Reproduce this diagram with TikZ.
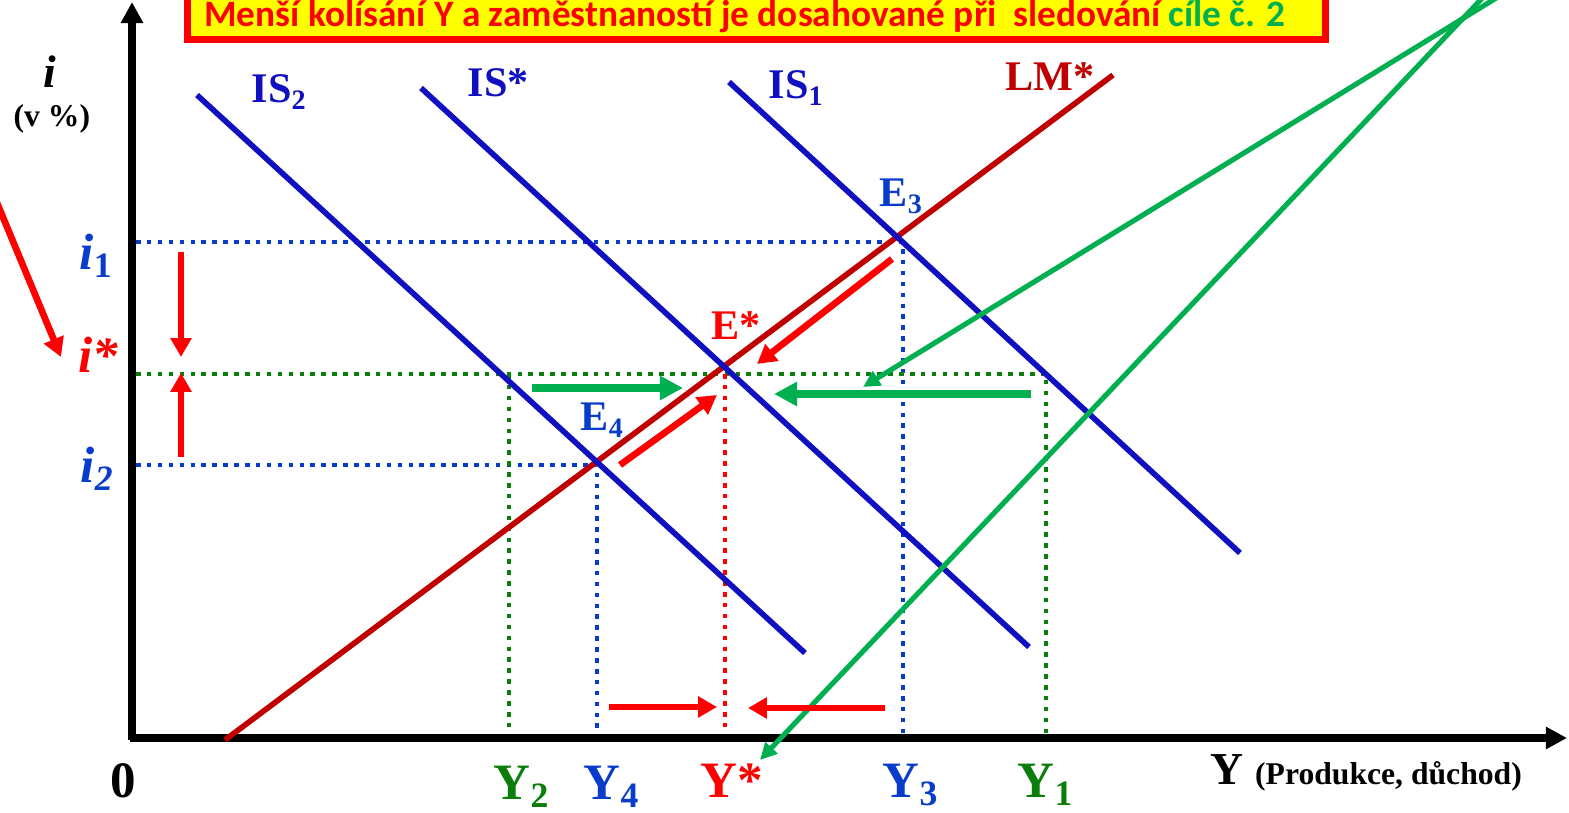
\documentclass[tikz,border=0pt]{standalone}
\usepackage{fontspec}
\setmainfont{Liberation Serif}
\newfontfamily\calibrifont{Carlito}
\usepackage{xcolor}
\usetikzlibrary{arrows.meta}
\definecolor{isblue}{HTML}{1010C0}
\definecolor{ptblue}{HTML}{0A3CCC}
\definecolor{lmred}{HTML}{C00000}
\definecolor{arrred}{HTML}{FF0000}
\definecolor{lgreen}{HTML}{00B050}
\definecolor{dgreen}{HTML}{0B7D0B}
\definecolor{boxyellow}{HTML}{FFFF00}

\begin{document}
\begin{tikzpicture}[x=0.01cm,y=-0.01cm]
  \tikzstyle{isline}=[isblue,line width=1.6pt]
  \tikzstyle{lmline}=[lmred,line width=1.6pt]
  \tikzstyle{trace}=[line width=1.3pt,dash pattern=on 1.3pt off 1.8pt]
  \tikzstyle{axisline}=[black,line width=2pt,-{Triangle[length=6pt,width=6pt]}]
  \tikzstyle{redarr}=[arrred,line width=1.9pt,-{Triangle[length=5.4pt,width=5.8pt]}]
  \tikzstyle{bigarr}=[lgreen,line width=2.2pt,-{Triangle[length=6.6pt,width=6.6pt]}]
  \tikzstyle{thinarr}=[lgreen,line width=1.45pt,-{Triangle[length=4.8pt,width=4.6pt]}]
  \tikzstyle{lbl}=[inner sep=0pt,anchor=base west,font=\fontsize{12}{14}\selectfont\bfseries]
  \tikzstyle{big}=[inner sep=0pt,anchor=base west,font=\fontsize{14.5}{16}\selectfont\bfseries]
  \clip (0,0) rectangle (1569,813);

  % title
  \node[draw=arrred,fill=boxyellow,line width=2pt,minimum width=11.38cm,minimum height=0.8cm,anchor=south west,inner sep=0pt] (box) at (183.5,43.5) {};
  \node[inner sep=0pt,font=\calibrifont\fontsize{10.6}{12}\selectfont\bfseries,text=arrred] (title) at (745,17)
    {Menší kolísání Y a zaměstnaností je dosahované při\ \ sledování \textcolor{lgreen}{cíle č. 2}};

  % points
  \coordinate (O) at (132,738);
  \coordinate (ytop) at (132,2);
  \coordinate (xend) at (1567,738);
  \coordinate (e3) at (903,242);
  \coordinate (e4) at (597,465);
  \coordinate (es) at (725,374);
  \coordinate (g1) at (1046,374);
  \coordinate (g2) at (509,374);

  % guides
  \draw[trace,ptblue] (136,242) -- (e3) -- (903,738);
  \draw[trace,ptblue] (136,465) -- (e4) -- (597,738);
  \draw[trace,dgreen] (136,374) -- (g1) -- (1046,738);
  \draw[trace,dgreen] (g2) -- (509,730);
  \draw[trace,arrred] (es) -- (725,738);

  % axes
  \draw[axisline] (132,740) -- (ytop);
  \draw[axisline] (130,738) -- (xend);

  % curves
  \draw[lmline] (225,740) coordinate (lmA) -- (1113,75) coordinate (lmB);
  \draw[isline] (197,95) coordinate (isTwoA) -- (805,653) coordinate (isTwoB);
  \draw[isline] (421,88) coordinate (isStA) -- (1029,647) coordinate (isStB);
  \draw[isline] (729,82) coordinate (isOneA) -- (1240,553) coordinate (isOneB);
  \draw[thinarr] (1506,-8) coordinate (grA) -- (863,387) coordinate (grB);
  \draw[thinarr] (1488,-8) coordinate (grC) -- (760,760) coordinate (grD);

  % moves
  \draw[bigarr] (532,388) coordinate (bg1) -- (683,388) coordinate (bg2);
  \draw[bigarr] (1031,394) coordinate (bg3) -- (774,394) coordinate (bg4);
  \draw[redarr] (892,259) coordinate (rd1) -- (757,364) coordinate (rd2);
  \draw[redarr] (620,465) coordinate (rd3) -- (717,395) coordinate (rd4);
  \draw[redarr] (181,252) coordinate (rv1) -- (181,357) coordinate (rv2);
  \draw[redarr] (181,457) coordinate (rv3) -- (181,373) coordinate (rv4);
  \draw[redarr] (609,707) coordinate (rb1) -- (717,707) coordinate (rb2);
  \draw[redarr] (885,708) coordinate (rb3) -- (748,708) coordinate (rb4);
  \draw[redarr] (-10,186) coordinate (rl1) -- (61,357) coordinate (rl2);

  % labels
  \node[lbl,font=\fontsize{13}{14}\selectfont\bfseries\itshape] (iax) at (43,88) {i};
  \node[lbl,font=\fontsize{9}{11}\selectfont\bfseries] (unit) at (13,127) {(v \%)};
  \node[big,ptblue,font=\fontsize{14.5}{16}\selectfont\bfseries\itshape] (iOne) at (79,270) {i\textsubscript{\upshape 1}};
  \node[big,arrred,font=\fontsize{14.5}{16}\selectfont\bfseries\itshape] (iSt) at (78,373) {i*};
  \node[big,ptblue,font=\fontsize{14.5}{16}\selectfont\bfseries\itshape] (iTwo) at (80,483) {i\textsubscript{2}};
  \node[lbl,isblue] (lIsTwo) at (251,103) {IS\textsubscript{2}};
  \node[lbl,isblue] (lIsSt) at (467,97) {IS*};
  \node[lbl,isblue] (lIsOne) at (768,99) {IS\textsubscript{1}};
  \node[lbl,lmred] (lLm) at (1005,91) {LM*};
  \node[lbl,ptblue] (lEThree) at (879,207) {E\textsubscript{3}};
  \node[lbl,arrred] (lESt) at (711,340) {E*};
  \node[lbl,ptblue] (lEFour) at (580,431) {E\textsubscript{4}};
  \node[big] (zero) at (110,798) {0};
  \node[big,dgreen] (yTwo) at (493,800) {Y\textsubscript{2}};
  \node[big,ptblue] (yFour) at (583,800) {Y\textsubscript{4}};
  \node[big,arrred] (ySt) at (700,798) {Y*};
  \node[big,ptblue] (yThree) at (882,798) {Y\textsubscript{3}};
  \node[big,dgreen] (yOne) at (1017,798) {Y\textsubscript{1}};
  \node[lbl,font=\fontsize{13}{15}\selectfont\bfseries] (yax) at (1210,785) {Y \fontsize{9}{11}\selectfont(Produkce, důchod)};
\end{tikzpicture}
\end{document}
